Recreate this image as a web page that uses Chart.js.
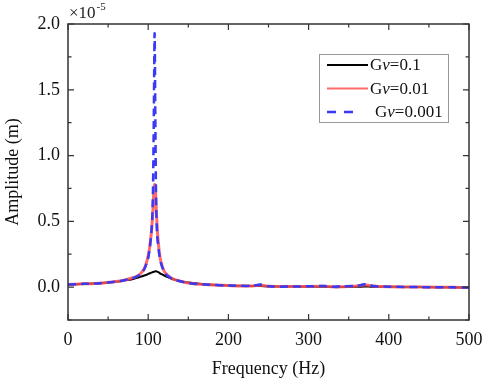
<!DOCTYPE html>
<html>
<head>
<meta charset="utf-8">
<script src="https://cdn.jsdelivr.net/npm/chart.js@4.4.0/dist/chart.umd.min.js"></script>
<style>
  html, body { margin: 0; padding: 0; background: #fff; }
  #wrap { width: 484px; height: 380px; position: relative; }
</style>
</head>
<body>
<div id="wrap"><canvas id="myChart" width="484" height="380"></canvas></div>
<script>
// frequency (Hz)
const freq = [0, 20, 40, 60, 70, 80, 85, 90, 95, 98, 100, 102, 104, 105, 106, 107, 108, 109, 110, 111, 112, 114, 116, 120, 125, 130, 140, 150, 170, 200, 230, 240, 250, 280, 320, 330, 340, 360, 370, 375, 380, 400, 440, 480, 500]

// amplitude, x10^-5 m
const gv01 = [0.02, 0.025, 0.03, 0.04, 0.05, 0.06, 0.068, 0.078, 0.088, 0.094, 0.1, 0.105, 0.11, 0.112, 0.115, 0.117, 0.118, 0.12, 0.12, 0.118, 0.115, 0.108, 0.1, 0.088, 0.075, 0.062, 0.045, 0.035, 0.022, 0.012, 0.008, 0.008, 0.006, 0.004, 0.002, 0.0, 0.0, 0.002, 0.004, 0.004, 0.003, 0.002, 0.0, -0.002, -0.003]
const gv001 = [0.02, 0.025, 0.03, 0.042, 0.052, 0.07, 0.08, 0.1, 0.14, 0.19, 0.24, 0.31, 0.42, 0.5, 0.6, 0.72, 0.78, 0.74, 0.6, 0.48, 0.38, 0.26, 0.19, 0.12, 0.085, 0.065, 0.045, 0.032, 0.02, 0.012, 0.008, 0.015, 0.006, 0.004, 0.006, 0.002, 0.003, 0.008, 0.016, 0.014, 0.008, 0.003, 0.0, -0.002, -0.003]
const gv0001 = [0.02, 0.025, 0.03, 0.042, 0.052, 0.068, 0.078, 0.098, 0.135, 0.18, 0.22, 0.3, 0.42, 0.52, 0.75, 1.3, 1.93, 1.2, 0.6, 0.42, 0.34, 0.24, 0.18, 0.115, 0.082, 0.063, 0.044, 0.031, 0.02, 0.012, 0.01, 0.02, 0.006, 0.004, 0.008, 0.003, 0.006, 0.01, 0.022, 0.02, 0.008, 0.003, 0.0, -0.002, -0.003]

const xTicks = [0, 100, 200, 300, 400, 500]
const yTicks = [0.0, 0.5, 1.0, 1.5, 2.0]
const labels = ['Gv=0.1', 'Gv=0.01', 'Gv=0.001']

const serif = '"Liberation Serif", "Times New Roman", serif'

function pts(ys) {
    return freq.map((f, i) => ({ x: f, y: ys[i] }))
}

// box, inward ticks, exponent and legend
const decor = {
    id: 'decor',
    afterDatasetsDraw(chart) {
        const ctx = chart.ctx
        const a = chart.chartArea
        const xs = chart.scales.x
        const ys = chart.scales.y
        ctx.save()
        ctx.strokeStyle = '#333'
        ctx.lineWidth = 1.5
        ctx.strokeRect(a.left, a.top, a.right - a.left, a.bottom - a.top)

        ctx.lineWidth = 1.2
        ctx.beginPath()
        for (let v = 0; v <= 500; v += 50) {
            const px = xs.getPixelForValue(v)
            const len = v % 100 === 0 ? 6 : 3.5
            ctx.moveTo(px, a.bottom); ctx.lineTo(px, a.bottom - len)
            ctx.moveTo(px, a.top); ctx.lineTo(px, a.top + len)
        }
        for (let v = -0.25; v <= 2.0001; v += 0.25) {
            const py = ys.getPixelForValue(v)
            const len = Math.abs(v * 2 - Math.round(v * 2)) < 1e-6 ? 6 : 3.5
            ctx.moveTo(a.left, py); ctx.lineTo(a.left + len, py)
            ctx.moveTo(a.right, py); ctx.lineTo(a.right - len, py)
        }
        ctx.stroke()

        // exponent
        ctx.fillStyle = '#222'
        ctx.textBaseline = 'alphabetic'
        ctx.textAlign = 'left'
        ctx.font = '17px ' + serif
        ctx.fillText('\u00d710', 69, 18)
        const w = ctx.measureText('\u00d710').width
        ctx.font = '11px ' + serif
        ctx.fillText('-5', 69 + w + 1, 10)

        // legend
        const bx = 319, by = 54, bw = 129, bh = 68
        ctx.fillStyle = '#fff'
        ctx.fillRect(bx, by, bw, bh)
        ctx.strokeStyle = '#999'
        ctx.lineWidth = 1
        ctx.strokeRect(bx + 0.5, by + 0.5, bw, bh)
        const ds = chart.data.datasets
        ds.forEach((d, i) => {
            const y = by + 11 + i * 23.5
            const dashed = !!d.borderDash
            ctx.strokeStyle = d.borderColor
            ctx.lineWidth = dashed ? 2.5 : (i === 1 ? 2 : d.borderWidth)
            ctx.setLineDash(dashed ? [9, 8] : [])
            ctx.beginPath()
            ctx.moveTo(bx + 8, y); ctx.lineTo(bx + (dashed ? 38 : 49), y)
            ctx.stroke()
            ctx.setLineDash([])
            ctx.fillStyle = '#111'
            ctx.textBaseline = 'middle'
            let tx = bx + (dashed ? 56 : 51)
            const parts = [['G', ''], ['v', 'italic '], [d.label.slice(2), '']]
            parts.forEach(([t, st]) => {
                ctx.font = st + '17px ' + serif
                ctx.fillText(t, tx, y + 1)
                tx += ctx.measureText(t).width
            })
        })
        ctx.restore()
    }
}

const ctx = document.getElementById('myChart').getContext('2d')

const config = {
    type: 'line',
    data: {
        datasets: [
            { label: labels[0], data: pts(gv01), borderColor: '#000000', borderWidth: 2, order: 3 },
            { label: labels[1], data: pts(gv001), borderColor: 'rgba(255,80,80,0.85)', borderWidth: 3, order: 2 },
            { label: labels[2], data: pts(gv0001), borderColor: '#3a3af5', borderWidth: 2.5, borderDash: [8, 5], order: 1 },
        ]
    },
    options: {
        responsive: false,
        animation: false,
        events: [],
        layout: { padding: { top: 24, right: 15, left: 0, bottom: 0 } },
        elements: { point: { radius: 0 }, line: { tension: 0.3, fill: false } },
        plugins: { legend: { display: false }, tooltip: { enabled: false } },
        scales: {
            x: {
                type: 'linear',
                min: 0,
                max: 500,
                grid: { display: false, drawTicks: false },
                border: { display: false },
                afterBuildTicks: (s) => { s.ticks = xTicks.map(v => ({ value: v })) },
                afterFit: (s) => { s.height = 60; s.paddingLeft = 0; s.paddingRight = 0 },
                ticks: { color: '#111', padding: 9, maxRotation: 0, font: { family: serif, size: 18 } },
                title: { display: true, text: 'Frequency (Hz)', color: '#111', padding: { top: 2, bottom: 0 }, font: { family: serif, size: 18 } }
            },
            y: {
                type: 'linear',
                min: -0.25,
                max: 2.0,
                grid: { display: false, drawTicks: false },
                border: { display: false },
                afterBuildTicks: (s) => { s.ticks = yTicks.map(v => ({ value: v })) },
                afterFit: (s) => { s.width = 68; s.paddingTop = 0; s.paddingBottom = 0 },
                ticks: { color: '#111', padding: 8, callback: (v) => Number(v).toFixed(1), font: { family: serif, size: 18 } },
                title: { display: true, text: 'Amplitude (m)', color: '#111', padding: { top: 2, bottom: 0 }, font: { family: serif, size: 18 } }
            }
        }
    },
    plugins: [decor]
}

const myChart = new Chart(ctx, config)
</script>
</body>
</html>
